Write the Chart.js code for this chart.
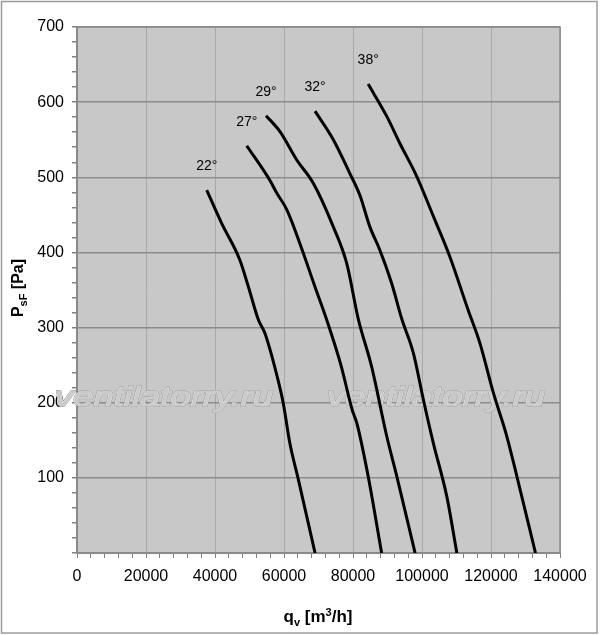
<!DOCTYPE html>
<html>
<head>
<meta charset="utf-8">
<script src="https://cdn.jsdelivr.net/npm/chart.js@4.4.0/dist/chart.umd.min.js"></script>
<style>
html, body { margin: 0; padding: 0; background: #fff; }
</style>
</head>
<body>
<canvas id="myChart" width="600" height="635"></canvas>
<script>
// blade angle curves
const angles = ['22°', '27°', '29°', '32°', '38°'];

const qv22 = [37600, 41900, 47200, 49700, 52600, 54500, 57900, 59800, 61700, 64100, 69000];
const ps22 = [483, 439, 390, 354, 310, 292, 237, 199, 146, 99, 0];

const qv27 = [49200, 55900, 57900, 60800, 64600, 69000, 72400, 76500, 79800, 81100, 84400, 88300];
const ps27 = [542, 496, 479, 457, 412, 354, 310, 250, 190, 173, 102, 0];

const qv29 = [54800, 58800, 63700, 68500, 74300, 78200, 81500, 85400, 89800, 92700, 98000];
const ps29 = [582, 561, 523, 492, 434, 385, 312, 248, 155, 102, 0];

const qv32 = [69000, 74300, 79100, 82000, 84900, 87800, 91200, 94100, 97500, 100400, 103300, 107200, 110100];
const ps32 = [588, 550, 505, 476, 434, 403, 359, 312, 266, 204, 146, 75, 0];

const qv38 = [84400, 89800, 93600, 98500, 103300, 108100, 113400, 116800, 120700, 124600, 127500, 132900];
const ps38 = [624, 581, 545, 501, 448, 394, 323, 279, 213, 155, 102, 0];

const xTickLabels = [0, 20000, 40000, 60000, 80000, 100000, 120000, 140000];
const yTickLabels = [100, 200, 300, 400, 500, 600, 700];

const watermark = 'ventilatorry.ru';

const series = [[qv22, ps22], [qv27, ps27], [qv29, ps29], [qv32, ps32], [qv38, ps38]];
const FONT = 'Arial, "Liberation Sans", sans-serif';

const decor = {
    id: 'decor',
    beforeDraw(chart) {
        const {ctx, chartArea: a} = chart;
        ctx.save();
        ctx.fillStyle = '#fff';
        ctx.fillRect(0, 0, chart.width, chart.height);
        ctx.strokeStyle = '#9c9c9c';
        ctx.lineWidth = 1.5;
        ctx.strokeRect(1.5, 1.5, chart.width - 4.5, chart.height - 3.5);
        ctx.fillStyle = '#c8c8c8';
        ctx.fillRect(a.left, a.top, a.right - a.left, a.bottom - a.top);
        ctx.restore();
    },
    beforeDatasetsDraw(chart) {
        const {ctx, chartArea: a} = chart;
        ctx.save();
        ctx.strokeStyle = '#8c8c8c';
        ctx.lineWidth = 1.5;
        ctx.strokeRect(a.left, a.top, a.right - a.left, a.bottom - a.top);
        // watermark
        ctx.font = 'italic 28px ' + FONT;
        ctx.textBaseline = 'alphabetic';
        const w = ctx.measureText(watermark).width;
        [55, 327].forEach(x0 => {
            ctx.save();
            ctx.translate(x0, 406);
            ctx.scale(218 / w, 1);
            ctx.lineJoin = 'round';
            ctx.strokeStyle = '#a4a4a4';
            ctx.lineWidth = 1.8;
            ctx.strokeText(watermark, 0, 0);
            ctx.strokeStyle = '#ececec';
            ctx.lineWidth = 0.7;
            ctx.strokeText(watermark, 0, 0);
            ctx.fillStyle = '#cacaca';
            ctx.fillText(watermark, 0, 0);
            ctx.restore();
        });
        ctx.restore();
    },
    afterDraw(chart) {
        const {ctx, scales: {x, y}} = chart;
        ctx.save();
        ctx.fillStyle = '#000';
        // angle labels above each curve start
        ctx.font = '14px ' + FONT;
        ctx.textAlign = 'center';
        ctx.textBaseline = 'middle';
        series.forEach((s, i) => {
            ctx.fillText(angles[i], x.getPixelForValue(s[0][0]), y.getPixelForValue(s[1][0]) - 24);
        });

        // axis titles with sub/superscripts
        ctx.textAlign = 'left';
        ctx.textBaseline = 'alphabetic';
        const drawParts = (parts, cx, cy) => {
            let total = 0;
            parts.forEach(p => { ctx.font = 'bold ' + p[1] + 'px ' + FONT; p.w = ctx.measureText(p[0]).width; total += p.w; });
            let px = cx - total / 2;
            parts.forEach(p => {
                ctx.font = 'bold ' + p[1] + 'px ' + FONT;
                ctx.fillText(p[0], px, cy + p[2]);
                px += p.w;
            });
        };
        drawParts([['q', 17, 0], ['v', 11, 4], [' [m', 17, 0], ['3', 11, -6], ['/h]', 17, 0]], 318, 622);

        ctx.translate(23, 288);
        ctx.rotate(-Math.PI / 2);
        drawParts([['P', 16, 0], ['sF', 11, 4], [' [Pa]', 16, 0]], 0, 0);
        ctx.restore();
    }
};

const ctx = document.getElementById('myChart');
new Chart(ctx, {
    type: 'scatter',
    data: {
        datasets: series.map((s, i) => ({
            label: angles[i],
            data: s[0].map((q, j) => ({x: q, y: s[1][j]})),
            showLine: true,
            borderColor: '#000',
            borderWidth: 3,
            pointRadius: 0,
            cubicInterpolationMode: 'monotone',
            fill: false
        }))
    },
    options: {
        responsive: false,
        animation: false,
        layout: {padding: {top: 27, right: 40, left: 0, bottom: 0}},
        plugins: {
            legend: {display: false},
            tooltip: {enabled: false}
        },
        scales: {
            x: {
                type: 'linear',
                min: 0,
                max: 140000,
                afterBuildTicks: s => {
                    const t = [];
                    for (let v = 0; v <= 140000; v += 4000) t.push({value: v});
                    s.ticks = t;
                },
                afterFit: s => { s.height = 82; },
                ticks: {
                    autoSkip: false,
                    maxRotation: 0,
                    minRotation: 0,
                    padding: 9,
                    color: '#000',
                    font: {size: 16, family: FONT},
                    callback: v => xTickLabels.includes(v) ? String(v) : ''
                },
                grid: {
                    color: c => (c.tick && c.tick.value % 20000 === 0) ? '#a8a8a8' : 'rgba(0,0,0,0)',
                    lineWidth: 1,
                    tickColor: '#808080',
                    tickLength: 5
                },
                border: {display: true, color: '#808080', width: 2}
            },
            y: {
                type: 'linear',
                min: 0,
                max: 700,
                afterBuildTicks: s => {
                    const t = [];
                    for (let v = 0; v <= 700; v += 20) t.push({value: v});
                    s.ticks = t;
                },
                afterFit: s => { s.width = 77; },
                ticks: {
                    autoSkip: false,
                    padding: 8,
                    color: '#000',
                    font: {size: 16, family: FONT},
                    callback: v => yTickLabels.includes(v) ? String(v) : ''
                },
                grid: {
                    color: c => (c.tick && c.tick.value % 100 === 0) ? '#8c8c8c' : 'rgba(0,0,0,0)',
                    lineWidth: 1.5,
                    tickColor: '#808080',
                    tickLength: 5
                },
                border: {display: true, color: '#808080', width: 2}
            }
        }
    },
    plugins: [decor]
});
</script>
</body>
</html>
